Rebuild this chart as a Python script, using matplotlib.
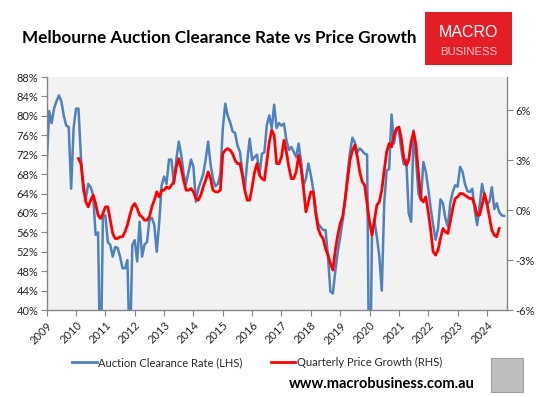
import matplotlib
matplotlib.use("Agg")
import matplotlib.pyplot as plt
import numpy as np
from matplotlib.lines import Line2D
from matplotlib.patches import Rectangle
from matplotlib.ticker import FuncFormatter

# ---------------- data ----------------
# Melbourne auction clearance rate (%), monthly from Jan 2009
clearance_start = 2009.0
clearance_rate = [
    70, 81, 78.5, 81.5, 83, 84.2, 83, 80, 78, 77.7, 65, 77.5,            # 2009
    81.5, 81.5, 71.5, 64.5, 63, 66, 65.3, 63.7, 55.5, 56, 25, 59.5,       # 2010
    59.5, 54, 53.4, 51, 53, 52.8, 51, 48.6, 48.6, 50.3, 30, 53.4,         # 2011
    54.4, 50, 58.2, 51, 53.5, 54, 58.5, 59, 57.5, 52, 58, 65.7,           # 2012
    67.5, 66, 71, 71, 66, 71, 74.7, 72, 68, 66, 68.5, 71,                 # 2013
    69.5, 62.3, 65, 66.5, 68, 71, 74.7, 70, 67, 65.5, 66, 68,             # 2014
    77.4, 82.5, 80, 78.7, 76.8, 76.5, 73.9, 72.6, 68.5, 65, 70.7, 75.3,   # 2015
    70.9, 71.5, 72, 67.8, 72.2, 72.5, 78.1, 80.1, 77.4, 82.3, 77.5, 78.5, # 2016
    78, 78.4, 75, 73, 73.6, 72.6, 71.5, 74.3, 70.5, 65.7, 67.1, 70.2,     # 2017
    67.8, 64.7, 60.5, 57.8, 57.1, 56.5, 56.5, 51, 43.8, 43.4, 48, 52,     # 2018
    55, 58.5, 63, 68, 72.5, 75.5, 74.5, 72.5, 73.3, 72.8, 72.2, 72,       # 2019
    15, 56, 58.5, 55, 51, 44, 62, 68.8, 69, 80.3, 74.3, 77.4,             # 2020
    77, 73, 70, 71, 60, 58.2, 77, 71, 64, 62.6, 70.5, 68.5,               # 2021
    65, 61, 57.5, 54.5, 56.8, 62.8, 62, 58.9, 57.2, 62, 64.3, 65.7,       # 2022
    65.4, 69.5, 68.5, 66, 64.5, 64.3, 65, 60.5, 57.5, 61.5, 66, 63.5,     # 2023
    61.8, 62.3, 65.3, 60.8, 62, 60.2, 59.5, 59.4,                         # 2024
]

# Melbourne quarterly price growth (%), monthly from Feb 2010
growth_start = 2010 + 1 / 12
price_growth = [
    3.1, 2.8, 1.5, 0.5, 0.2, 0.6, 0.9, 0.4, -0.3, -0.5, -0.2,            # 2010
    0.2, 0.2, -0.6, -1.4, -1.7, -1.7, -1.6, -1.6, -1.3, -0.9, -0.3, 0.2,  # 2011
    0.4, 0.1, -0.3, -0.4, -0.6, -0.6, -0.4, 0.2, 0.6, 1.1, 0.8, 1.2,      # 2012
    1.2, 1.4, 1.3, 1.5, 1.7, 2.6, 3.1, 2.5, 1.8, 1.2, 1.2, 1.3,           # 2013
    1.1, 0.7, 0.6, 0.9, 1.4, 1.8, 2.3, 1.9, 1.2, 1.1, 1.1, 1.2,           # 2014
    3.4, 3.6, 3.7, 3.6, 3.4, 3.0, 2.8, 2.8, 2.1, 1.2, 0.6, 0.6,           # 2015
    1.4, 2.3, 2.8, 2.1, 1.9, 1.8, 2.9, 4.1, 4.8, 4.5, 2.8, 2.8,           # 2016
    3.2, 4.2, 3.5, 2.6, 1.9, 1.9, 2.3, 3.3, 2.5, 1.3, -0.1, 0.5,          # 2017
    1.1, 1.1, -0.2, -1.1, -1.5, -1.7, -2.3, -2.7, -3.2, -3.6, -2.4, -1.5, # 2018
    -0.8, -0.4, 0.6, 1.8, 3.0, 3.6, 3.9, 3.2, 2.3, 1.7, 1.5, 0.4,         # 2019
    -0.7, -1.5, -0.6, 0.3, 0.5, 1.2, 2.4, 3.5, 4.0, 3.8, 4.5, 4.9,        # 2020
    5.0, 4.3, 3.1, 2.7, 3.0, 4.1, 4.7, 3.9, 2.2, 0.7, 0.5, 0.8,           # 2021
    -0.1, -1.2, -2.5, -2.7, -2.4, -1.7, -1.1, -1.3, -1.4, -0.7, 0.1, 0.7, # 2022
    0.8, 1.0, 1.0, 0.9, 0.8, 0.7, 0.7, 0.3, -0.3, -0.3, 0.3, 1.0,         # 2023
    0.4, -0.4, -1.2, -1.5, -1.6, -1.1,                                    # 2024
]

year_ticks = list(range(2009, 2025))
left_ticks = list(range(40, 89, 4))
right_ticks = [-6, -3, 0, 3, 6]

title = "Melbourne Auction Clearance Rate vs Price Growth"
label_blue = "Auction Clearance Rate (LHS)"
label_red = "Quarterly Price Growth (RHS)"

# ---------------- styling ----------------
plt.rcParams['font.family'] = ['Lato', 'DejaVu Sans']
BLUE = "#4F81BD"
RED = "#FF0000"
AXC = "#868686"
TXT = "#262626"

fig = plt.figure(figsize=(5.41, 3.97), dpi=100)
fig.patch.set_facecolor("white")

ax = fig.add_axes([0.0863, 0.219, 0.8507, 0.587])
ax.set_facecolor("#F2F2F2")
ax2 = ax.twinx()

x_blue = clearance_start + np.arange(len(clearance_rate)) / 12
x_red = growth_start + np.arange(len(price_growth)) / 12

ax.plot(x_blue, clearance_rate, color=BLUE, lw=1.8, solid_joinstyle="round")
ax2.plot(x_red, price_growth, color=RED, lw=2.0, solid_joinstyle="round")

ax.set_xlim(2009, 2024.68)
ax.set_ylim(40, 88)
ax2.set_ylim(-6, 8)

ax.set_yticks(left_ticks)
ax.yaxis.set_major_formatter(FuncFormatter(lambda v, p: f"{v:.0f}%"))
ax2.set_yticks(right_ticks)
ax2.yaxis.set_major_formatter(FuncFormatter(lambda v, p: f"{v:.0f}%"))

ax.set_xticks(year_ticks)
ax.set_xticklabels([str(y) for y in year_ticks], rotation=45, ha="right",
                   va="top", rotation_mode="anchor")

for a in (ax, ax2):
    for s in a.spines.values():
        s.set_color(AXC)
        s.set_linewidth(1.0)
    a.spines["top"].set_visible(False)
ax.spines["right"].set_visible(False)
ax2.spines["left"].set_visible(False)
ax2.spines["bottom"].set_visible(False)

ax.tick_params(axis="y", direction="out", length=4, color=AXC, labelsize=8,
               labelcolor=TXT, pad=2)
ax.tick_params(axis="x", direction="out", length=4, color=AXC, labelsize=8,
               labelcolor=TXT, pad=3)
ax2.tick_params(axis="y", direction="out", length=4, color=AXC, labelsize=8,
                labelcolor=TXT, pad=2)

# title
fig.text(0.04, 0.905, title, fontsize=12.3, fontweight="bold", color="black",
         ha="left", va="center")

# logo
logo = Rectangle((0.786, 0.836), 0.161, 0.134, transform=fig.transFigure,
                 facecolor="#E41E26", edgecolor="none")
fig.patches.append(logo)
fig.text(0.866, 0.918, "MACRO", color="white", fontsize=11.5, ha="center",
         va="center", family=["Liberation Sans", "DejaVu Sans"])
fig.text(0.866, 0.868, "BUSINESS", color="#F6C9C9", fontsize=8.2, ha="center",
         va="center", family=["Liberation Sans", "DejaVu Sans"])

# legend
handles = [Line2D([], [], color=BLUE, lw=2), Line2D([], [], color=RED, lw=2)]
fig.legend(handles, [label_blue, label_red], loc="center", ncol=2,
           bbox_to_anchor=(0.475, 0.086), frameon=False, fontsize=8,
           handlelength=2.2, handletextpad=0.1, columnspacing=2.6,
           labelcolor=TXT)

# website
fig.text(0.877, 0.032, "www.macrobusiness.com.au", fontsize=10.5,
         fontweight="bold", color="black", ha="right", va="center")

# wolf image placeholder
wolf = Rectangle((0.907, 0.012), 0.06, 0.085, transform=fig.transFigure,
                 facecolor="#BEBEBE", edgecolor="#A0A0A0", lw=0.8)
fig.patches.append(wolf)

fig.savefig("out.png", dpi=100)
